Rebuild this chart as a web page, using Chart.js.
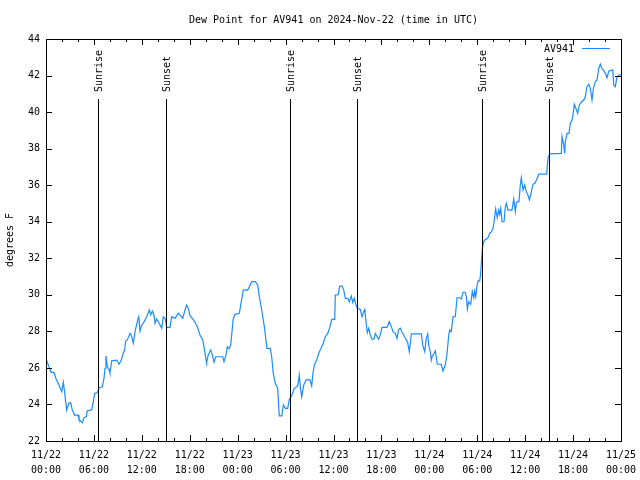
<!DOCTYPE html>
<html>
<head>
<meta charset="utf-8">
<script src="https://cdn.jsdelivr.net/npm/chart.js@4/dist/chart.umd.min.js"></script>
<style>
  html,body{margin:0;padding:0;background:#fff;}
  canvas{display:block;}
</style>
</head>
<body>
<canvas id="c" width="640" height="480"></canvas>
<script>
// ---- data (hours since 2024-11-22 00:00 UTC) ----
const hours = [
  0.0,0.38,0.63,1.0,1.21,1.63,1.97,2.17,2.34,2.59,
  2.88,3.09,3.29,3.59,4.01,4.13,4.55,4.76,5.05,5.17,
  5.72,5.92,6.10,6.42,6.67,7.05,7.26,7.39,7.51,7.68,
  7.89,8.01,8.23,8.85,9.14,9.43,9.64,9.85,9.98,10.18,
  10.52,10.71,10.93,11.15,11.48,11.61,11.77,11.98,12.18,12.40,
  12.61,12.94,13.11,13.31,13.52,13.65,13.86,14.06,14.28,14.49,
  14.69,14.94,15.11,15.53,15.74,16.15,16.57,16.87,17.12,17.41,
  17.62,17.82,18.03,18.37,18.66,18.95,19.28,19.62,19.82,20.04,
  20.12,20.32,20.62,20.82,21.04,21.25,22.13,22.29,22.54,22.70,
  22.92,23.13,23.25,23.45,23.67,24.21,24.42,24.71,25.26,25.46,
  25.76,26.21,26.51,26.71,27.01,27.34,27.67,28.09,28.26,28.46,
  28.71,29.01,29.21,29.52,29.72,29.97,30.27,30.47,30.80,31.09,
  31.52,31.72,31.84,32.02,32.27,32.56,33.06,33.27,33.40,33.60,
  33.90,34.15,34.44,34.72,34.98,35.28,35.56,35.78,36.15,36.23,
  36.57,36.78,37.07,37.28,37.48,37.78,37.98,38.23,38.41,38.61,
  38.82,38.98,39.36,39.57,39.78,39.91,40.07,40.23,40.41,40.61,
  40.82,41.07,41.24,41.45,41.66,41.91,42.07,42.70,42.99,43.24,
  43.45,43.74,43.95,44.16,44.37,44.58,44.79,45.08,45.29,45.49,
  45.67,45.74,47.0,47.17,47.42,47.62,47.80,47.92,48.12,48.25,
  48.34,48.55,48.75,49.0,49.50,49.71,50.0,50.21,50.43,50.55,
  50.75,50.97,51.25,51.47,51.81,52.01,52.22,52.50,52.63,52.76,
  52.93,53.18,53.38,53.56,53.68,53.81,53.97,54.10,54.31,54.43,
  54.51,54.64,54.76,54.94,55.35,55.56,55.77,55.97,56.10,56.31,
  56.44,56.51,56.69,56.81,56.94,57.10,57.35,57.52,57.64,57.85,
  58.35,58.57,58.77,58.89,59.02,59.23,59.39,59.52,59.73,59.94,
  60.15,60.30,60.54,60.79,60.98,61.24,61.49,61.74,62.70,62.78,
  62.90,63.11,64.53,64.62,64.83,64.95,65.03,65.24,65.49,65.65,
  65.87,65.99,66.15,66.33,66.58,66.78,67.03,67.33,67.53,67.74,
  67.96,68.16,68.37,68.56,68.79,69.0,69.21,69.41,69.62,69.81,
  70.04,70.25,70.47,70.97,71.09,71.29,71.46,71.71,72.0
];
const dewPoint = [
  26.49,26.07,25.76,25.76,25.45,25.06,24.70,25.21,24.63,23.70,
  24.08,24.10,23.70,23.42,23.42,23.20,22.99,23.28,23.33,23.66,
  23.70,24.15,24.61,24.64,24.92,24.97,25.43,25.98,26.65,26.07,
  25.92,25.71,26.39,26.43,26.20,26.43,26.76,26.98,27.47,27.53,
  27.89,27.75,27.35,27.98,28.62,28.80,28.00,28.35,28.44,28.62,
  28.80,29.17,28.90,29.11,28.90,28.44,28.68,28.53,28.35,28.17,
  28.80,28.68,28.22,28.22,28.80,28.71,28.99,28.86,28.71,29.17,
  29.44,29.26,28.86,28.68,28.50,28.26,27.80,27.53,27.07,26.43,
  26.31,26.71,26.98,26.71,26.31,26.61,26.61,26.34,26.71,27.16,
  27.04,27.25,27.80,28.71,28.93,28.99,29.54,30.26,30.26,30.44,
  30.72,30.72,30.54,29.90,29.17,28.26,27.07,27.07,26.61,25.71,
  25.16,24.88,23.37,23.37,23.97,23.79,23.79,24.28,24.52,24.88,
  25.01,25.61,24.97,24.42,25.06,25.34,25.34,25.01,25.61,26.16,
  26.43,26.80,27.07,27.35,27.71,27.89,28.26,28.66,28.66,29.99,
  29.99,30.48,30.48,30.26,29.81,29.81,29.62,29.94,29.57,29.81,
  29.44,29.26,29.20,28.80,29.08,29.20,28.53,27.93,28.17,27.80,
  27.57,27.57,27.89,27.71,27.57,27.89,28.22,28.22,28.53,28.26,
  27.98,27.89,27.62,28.11,28.17,27.97,27.80,27.57,27.38,26.89,
  27.53,27.86,27.86,27.25,26.89,27.62,27.86,27.25,26.89,26.43,
  26.61,26.76,26.93,26.20,26.20,25.83,26.16,26.74,27.80,28.07,
  27.98,28.80,28.80,29.84,29.84,29.77,30.14,30.14,29.90,29.22,
  29.62,29.48,30.17,29.84,30.21,29.90,30.50,30.76,30.76,31.18,
  31.73,32.55,32.82,33.00,33.13,33.37,33.44,33.64,33.97,34.70,
  34.37,34.22,34.64,34.41,34.73,34.00,34.00,34.82,35.01,34.64,
  34.64,35.24,34.55,35.01,35.10,35.10,36.01,36.41,35.74,36.01,
  35.64,35.52,35.19,35.68,36.05,36.12,36.37,36.60,36.60,37.10,
  37.56,37.71,37.74,38.65,38.20,37.74,38.38,38.84,38.84,39.39,
  39.57,39.84,40.43,40.22,39.93,40.39,40.54,40.66,40.84,41.39,
  41.52,41.30,40.66,41.32,41.66,41.76,42.40,42.62,42.36,42.30,
  42.12,41.88,42.25,42.30,41.48,41.39,41.85,42.03,42.03
];
const sunriseHours = [6.55, 30.55, 54.64];
const sunsetHours  = [15.03, 38.98, 63.03];
const xTickHours = [0,6,12,18,24,30,36,42,48,54,60,66,72];
const xTickLabels = [
  ["11/22","00:00"],["11/22","06:00"],["11/22","12:00"],["11/22","18:00"],
  ["11/23","00:00"],["11/23","06:00"],["11/23","12:00"],["11/23","18:00"],
  ["11/24","00:00"],["11/24","06:00"],["11/24","12:00"],["11/24","18:00"],
  ["11/25","00:00"]
];
const yTickValues = [22,24,26,28,30,32,34,36,38,40,42,44];
const seriesName = "AV941";
const titleText = "Dew Point for AV941 on 2024-Nov-22 (time in UTC)";
const yAxisTitle = "degrees F";

// ---- style ----
const FONT = "DejaVu Sans Mono";
const LINE_COLOR = "#1a8cff";

const points = hours.map((h, i) => ({x: h, y: dewPoint[i]}));

const decor = {
  id: "decor",
  afterDraw(chart) {
    const ctx = chart.ctx;
    const ca = chart.chartArea;
    const xs = chart.scales.x, ys = chart.scales.y;
    const L = Math.round(ca.left), R = Math.round(ca.right);
    const T = Math.round(ca.top), B = Math.round(ca.bottom);
    const H = B - T;
    ctx.save();
    ctx.strokeStyle = "#000";
    ctx.fillStyle = "#000";
    ctx.lineWidth = 1;
    // border
    ctx.strokeRect(L + 0.5, T + 0.5, R - L, B - T);
    // x ticks (major every 6h, minor every 2h), inward, top & bottom
    ctx.beginPath();
    for (let h = 0; h <= 72; h += 2) {
      const px = Math.round(xs.getPixelForValue(h)) + 0.5;
      const len = (h % 6 === 0) ? 6 : 3;
      ctx.moveTo(px, B); ctx.lineTo(px, B - len);
      ctx.moveTo(px, T); ctx.lineTo(px, T + len);
    }
    // y ticks, inward, left & right
    yTickValues.forEach(v => {
      const py = Math.round(ys.getPixelForValue(v)) + 0.5;
      ctx.moveTo(L, py); ctx.lineTo(L + 6, py);
      ctx.moveTo(R, py); ctx.lineTo(R - 6, py);
    });
    ctx.stroke();
    // sunrise / sunset lines and labels
    const events = [];
    sunriseHours.forEach(h => events.push([h, "Sunrise"]));
    sunsetHours.forEach(h => events.push([h, "Sunset"]));
    ctx.font = "10px '" + FONT + "'";
    events.forEach(([h, lab]) => {
      const px = Math.round(xs.getPixelForValue(h)) + 0.5;
      const top = Math.round(B - 0.85 * H);
      ctx.beginPath();
      ctx.moveTo(px, B); ctx.lineTo(px, top);
      ctx.stroke();
      ctx.save();
      ctx.translate(px + 1, B - 0.868 * H);
      ctx.rotate(-Math.PI / 2);
      ctx.textAlign = "left";
      ctx.textBaseline = "middle";
      ctx.fillText(lab, 0, 0);
      ctx.restore();
    });
    // title
    ctx.textAlign = "center";
    ctx.textBaseline = "middle";
    ctx.fillText(titleText, (L + R) / 2, 20);
    // y axis title
    ctx.save();
    ctx.translate(10, 240);
    ctx.rotate(-Math.PI / 2);
    ctx.textAlign = "center";
    ctx.textBaseline = "middle";
    ctx.fillText(yAxisTitle, 0, 0);
    ctx.restore();
    // legend
    ctx.textAlign = "right";
    ctx.textBaseline = "middle";
    ctx.fillText(seriesName, 574, 49);
    ctx.strokeStyle = LINE_COLOR;
    ctx.beginPath();
    ctx.moveTo(582, 48.5); ctx.lineTo(610, 48.5);
    ctx.stroke();
    ctx.restore();
  }
};

new Chart(document.getElementById("c"), {
  type: "line",
  data: {
    datasets: [{
      label: seriesName,
      data: points,
      borderColor: LINE_COLOR,
      borderWidth: 1.2,
      pointRadius: 0,
      tension: 0,
      fill: false
    }]
  },
  options: {
    responsive: false,
    animation: false,
    events: [],
    layout: { padding: { left: 0, right: 19, top: 39, bottom: 0 } },
    plugins: {
      legend: { display: false },
      tooltip: { enabled: false },
      title: { display: false }
    },
    scales: {
      x: {
        type: "linear",
        min: 0, max: 72,
        afterBuildTicks(s) { s.ticks = xTickHours.map(v => ({value: v})); },
        afterFit(s) { s.height = 39; s.paddingLeft = 0; s.paddingRight = 0; },
        grid: { display: false, drawTicks: false },
        border: { display: false },
        ticks: {
          autoSkip: false, maxRotation: 0, minRotation: 0,
          color: "#000", padding: 7,
          font: { family: FONT, size: 10, lineHeight: 1.5 },
          callback: (v, i) => xTickLabels[i]
        }
      },
      y: {
        min: 22, max: 44,
        afterBuildTicks(s) { s.ticks = yTickValues.map(v => ({value: v})); },
        afterFit(s) { s.width = 46; s.paddingTop = 0; s.paddingBottom = 0; },
        grid: { display: false, drawTicks: false },
        border: { display: false },
        ticks: {
          color: "#000", padding: 6,
          font: { family: FONT, size: 10 },
          callback: (v) => String(v)
        }
      }
    }
  },
  plugins: [decor]
});
</script>
</body>
</html>
